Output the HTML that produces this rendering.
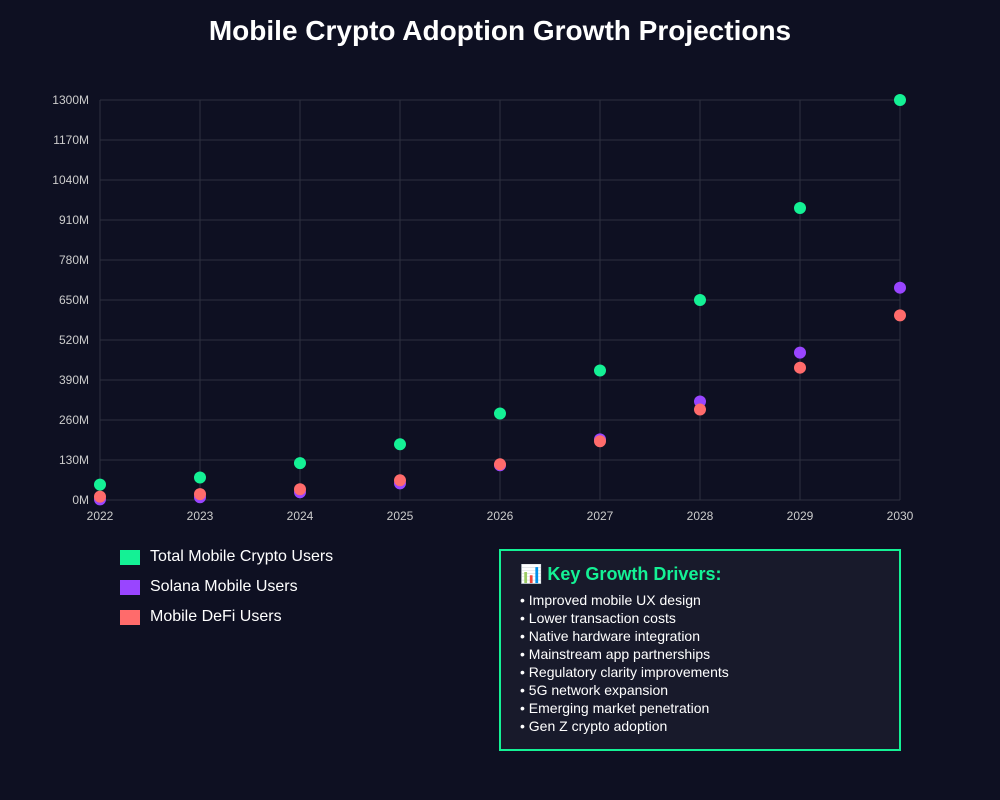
<!DOCTYPE html>
<html><head><meta charset="utf-8"><style>
body{margin:0;background:#0e1022;width:1000px;height:800px;overflow:hidden;font-family:"Liberation Sans",sans-serif;color:#fff;position:relative}
h1{position:absolute;top:15px;left:0;width:1000px;text-align:center;margin:0;font-size:28px;font-weight:bold}
.leg{position:absolute;left:120px;font-size:16px;display:flex;align-items:center}
.leg span{width:20px;height:15px;display:inline-block;margin-right:10px}
.box{position:absolute;left:499px;top:549px;width:398px;height:198px;border:2px solid #14f195;background:#181a2b;box-sizing:content-box}
.box h3{margin:13px 0 6px 19px;color:#14f195;font-size:18px}
.box div{margin-left:19px;font-size:14px;line-height:18px}
</style></head><body>
<h1>Mobile Crypto Adoption Growth Projections</h1>
<svg id="chart" width="1000" height="540" style="position:absolute;left:0;top:0"></svg>
<div class="leg" style="top:548px"><span style="background:#14f195"></span>Total Mobile Crypto Users</div>
<div class="leg" style="top:578px"><span style="background:#9945ff"></span>Solana Mobile Users</div>
<div class="leg" style="top:608px"><span style="background:#ff6b6b"></span>Mobile DeFi Users</div>
<div class="box">
<h3>📊 Key Growth Drivers:</h3>
<div>• Improved mobile UX design</div><div>• Lower transaction costs</div><div>• Native hardware integration</div><div>• Mainstream app partnerships</div><div>• Regulatory clarity improvements</div><div>• 5G network expansion</div><div>• Emerging market penetration</div><div>• Gen Z crypto adoption</div>
</div>
<script>
const years=[2022,2023,2024,2025,2026,2027,2028,2029,2030];
const totalUsers=[50,73,120,181,281,421,650,949,1300];
const solanaUsers=[2,9,25,54,113,197,320,479,690];
const defiUsers=[11,19,35,64,116,191,294,430,600];
const yTicks=[0,130,260,390,520,650,780,910,1040,1170,1300];
const svg=document.getElementById('chart');const NS='http://www.w3.org/2000/svg';
const x=i=>100+i*100, y=v=>500-v*400/1300;
function el(t,a){const e=document.createElementNS(NS,t);for(const k in a)e.setAttribute(k,a[k]);svg.appendChild(e);return e;}
yTicks.forEach(t=>{const l=el('line',{x1:100,x2:900,y1:y(t),y2:y(t),stroke:'#2e3140','stroke-width':1});


const tx=el('text',{x:89,y:y(t)+4,'text-anchor':'end',fill:'#ccc','font-size':12});tx.textContent=t+'M';

});
years.forEach((yr,i)=>{const l=el('line',{x1:x(i),x2:x(i),y1:100,y2:500,stroke:'#2e3140','stroke-width':1});


const tx=el('text',{x:x(i),y:520,'text-anchor':'middle',fill:'#ccc','font-size':12});tx.textContent=yr;

});
[[totalUsers,'#14f195','total'],[solanaUsers,'#9945ff','solana'],[defiUsers,'#ff6b6b','defi']].forEach(([d,c,n])=>{
d.forEach((v,i)=>{const p=el('circle',{cx:x(i),cy:y(v),r:6,fill:c});

});});
</script>
</body></html>
